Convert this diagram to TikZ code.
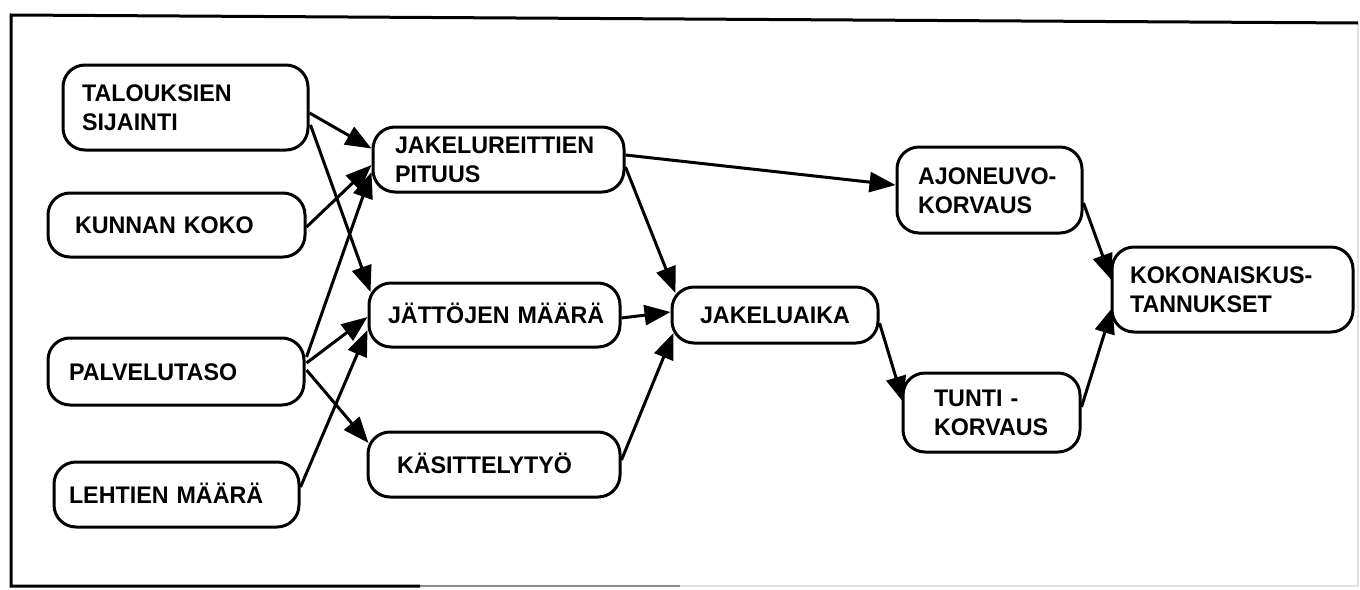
\documentclass[tikz,border=0pt]{standalone}
\usepackage{fontspec}
\setmainfont{Liberation Sans}[FakeStretch=0.97]
\usetikzlibrary{arrows.meta,calc}
\begin{document}
\begin{tikzpicture}[x=0.5pt,y=-0.5pt,
  box/.style={draw,line width=1.5pt,rounded corners=11pt,align=left,
    font=\bfseries\fontsize{12}{14.5}\selectfont,inner ysep=0pt,text height=8.6pt},
  one/.style={text depth=0pt},
  two/.style={text depth=14.5pt},
  arr/.style={line width=1.5pt,-{Triangle[length=13pt,width=10pt]}},
  frame/.style={line width=1.5pt},
  greyframe/.style={line width=1.2pt,black!45},
  faintframe/.style={line width=1pt,black!12}]
\useasboundingbox (0,0) rectangle (1360,589);
\coordinate (TL) at (11,15);
\coordinate (TR) at (1358,23);
\coordinate (BR) at (1358,586);
\coordinate (BF) at (680,586);
\coordinate (BM) at (420,586);
\coordinate (BL) at (11,586);
\draw[faintframe] (TR) -- (BR) -- (BF);
\draw[greyframe] (BF) -- (BM);
\draw[frame] (BM) -- (BL) -- (TL) -- (TR);

\node[box,two,text width=103.5pt,inner xsep=9.5pt,minimum height=42.5pt] (T) at (185.5,107.5) {TALOUKSIEN\\SIJAINTI};
\node[box,one,text width=101.5pt,inner xsep=13.5pt,minimum height=32pt] (K) at (176.5,225) {KUNNAN KOKO};
\node[box,one,text width=107pt,inner xsep=10.5pt,minimum height=33.5pt] (P) at (176,371.5) {PALVELUTASO};
\node[box,one,text width=107.5pt,inner xsep=7.5pt,minimum height=32.5pt] (L) at (176.5,494.5) {LEHTIEN MÄÄRÄ};
\node[box,two,text width=103.5pt,inner xsep=11pt,minimum height=32.5pt] (J) at (498.5,159.5) {JAKELUREITTIEN\\PITUUS};
\node[box,one,text width=106.5pt,inner xsep=9.5pt,minimum height=32pt] (JM) at (494.5,315) {\mbox{JÄTTÖJEN MÄÄRÄ}};
\node[box,one,text width=97pt,inner xsep=14.5pt,minimum height=32.5pt] (KT) at (494,464.5) {KÄSITTELYTYÖ};
\node[box,one,text width=75pt,inner xsep=14pt,minimum height=28pt] (JA) at (775,315) {JAKELUAIKA};
\node[box,two,text width=71.5pt,inner xsep=10.5pt,minimum height=43pt] (AJ) at (989.5,190) {AJONEUVO-\\KORVAUS};
\node[box,two,text width=57.5pt,inner xsep=15.5pt,minimum height=39.5pt] (TU) at (991.5,412.5) {TUNTI -\\KORVAUS};
\node[box,two,text width=102.5pt,inner xsep=9pt,minimum height=42.5pt] (KOK) at (1232.5,289.5) {KOKONAISKUS-\\TANNUKSET};

\draw[arr] ($(T.east)+(0,5.5)$) -- ($(J.west)+(0,-11)$);
\draw[arr] ($(T.east)+(1,17.5)$) -- ($(JM.west)+(3,-23)$);
\draw[arr] ($(K.east)+(0,2)$) -- ($(J.west)+(0,5.5)$);
\draw[arr] ($(P.east)+(1,-14.5)$) -- ($(J.west)+(0,12.5)$);
\draw[arr] ($(P.east)+(1,-8.5)$) -- ($(JM.west)+(0,2)$);
\draw[arr] ($(P.east)+(1,-1.5)$) -- ($(KT.west)+(2,-21.5)$);
\draw[arr] ($(L.east)+(0,-7.5)$) -- ($(JM.west)+(0,15)$);
\draw[arr] ($(J.east)+(0,7.5)$) -- ($(JA.west)+(5,-22)$);
\draw[arr] ($(J.east)+(0,-4.5)$) -- ($(AJ.west)+(0,-5)$);
\draw[arr] ($(JM.east)+(0,3)$) -- ($(JA.west)+(0,-3)$);
\draw[arr] ($(KT.east)+(0,-4.5)$) -- ($(JA.west)+(3,18)$);
\draw[arr] ($(JA.east)+(0,8)$) -- ($(TU.west)+(2,-10)$);
\draw[arr] ($(AJ.east)+(0,13)$) -- ($(KOK.west)+(1,-9.5)$);
\draw[arr] ($(TU.east)+(0,-5.5)$) -- ($(KOK.west)+(2,18)$);
\end{tikzpicture}
\end{document}
